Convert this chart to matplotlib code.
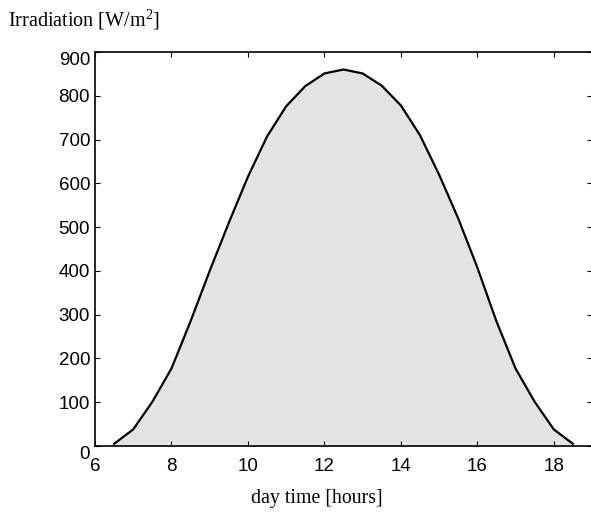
import numpy as np
import matplotlib
matplotlib.use('Agg')
import matplotlib.pyplot as plt

plt.rcParams['mathtext.fontset'] = 'custom'
plt.rcParams['mathtext.rm'] = 'Liberation Serif'

# half-hourly irradiation readings
hours = [6.5, 7, 7.5, 8, 8.5, 9, 9.5, 10, 10.5, 11, 11.5, 12, 12.5,
         13, 13.5, 14, 14.5, 15, 15.5, 16, 16.5, 17, 17.5, 18, 18.5]
irradiation = [5, 38, 101, 177, 285, 400, 510, 615, 707, 776, 822, 851, 860,
               851, 823, 778, 710, 620, 520, 408, 285, 177, 101, 38, 5]

xticks = [6, 8, 10, 12, 14, 16, 18]
yticks = [0, 100, 200, 300, 400, 500, 600, 700, 800, 900]

fig = plt.figure(figsize=(5.91, 5.19), dpi=100)
ax = fig.add_axes([95 / 591, 73 / 519, 497 / 591, 394 / 519])

ax.fill_between(hours, irradiation, 0, color='#e3e3e3', linewidth=0)
ax.plot(hours, irradiation, color='black', linewidth=1.6)

ax.set_xlim(6, 19)
ax.set_ylim(0, 900)
ax.set_xticks(xticks)
ax.set_yticks(yticks)
ax.tick_params(direction='in', length=3.8, width=0.8, top=True, right=True,
               labelsize=13.5)
ax.tick_params(axis='x', pad=8.5)
ax.tick_params(axis='y', pad=3.6)
for lab in ax.get_xticklabels() + ax.get_yticklabels():
    lab.set_family('Liberation Sans')
for sp in ax.spines.values():
    sp.set_linewidth(1.2)

ylabs = ax.get_yticklabels()
ylabs[0].set_va('top')
ylabs[-1].set_va('top')

fig.text(8 / 591, 1 - 26 / 519, r'Irradiation [W/m$^{\mathrm{2}}$]',
         family='Liberation Serif', fontsize=14.5, ha='left', va='baseline')
fig.text(317 / 591, 1 - 503 / 519, 'day time [hours]', family='Liberation Serif',
         fontsize=14.3, ha='center', va='baseline')

fig.savefig('out.png', dpi=100)
